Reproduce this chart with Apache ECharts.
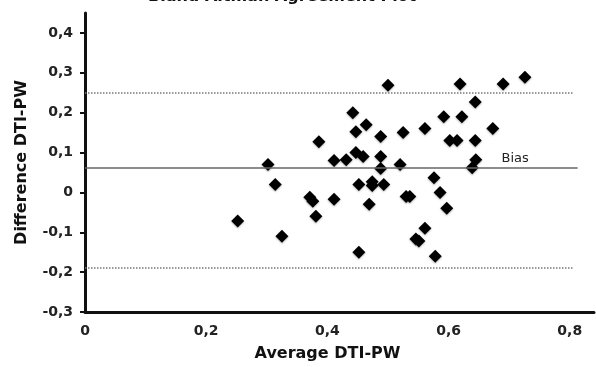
<!DOCTYPE html>
<html>
<head>
<meta charset="utf-8">
<script src="https://cdn.jsdelivr.net/npm/echarts@6/dist/echarts.min.js"></script>
<style>
  html, body { margin: 0; padding: 0; background: #fff; }
  #chart { width: 596px; height: 367px; }
</style>
</head>
<body>
<div id="chart"></div>
<script>
// averages (x) and differences (y)
const averages = [
  0.252, 0.302, 0.314, 0.325, 0.371, 0.376, 0.381, 0.386, 0.411, 0.411,
  0.431, 0.442, 0.447, 0.447, 0.459, 0.464, 0.452, 0.452, 0.469, 0.474,
  0.474, 0.488, 0.488, 0.488, 0.493, 0.500, 0.520, 0.525, 0.530, 0.536,
  0.546, 0.551, 0.561, 0.561, 0.576, 0.578, 0.586, 0.592, 0.597, 0.602,
  0.614, 0.619, 0.622, 0.639, 0.645, 0.644, 0.644, 0.673, 0.690, 0.726
]
const differences = [
  -0.072, 0.070, 0.020, -0.110, -0.012, -0.022, -0.060, 0.127, 0.080, -0.017,
  0.082, 0.200, 0.152, 0.100, 0.090, 0.170, 0.020, -0.150, -0.030, 0.027,
  0.017, 0.140, 0.090, 0.060, 0.020, 0.269, 0.070, 0.150, -0.010, -0.010,
  -0.117, -0.122, 0.160, -0.090, 0.037, -0.160, 0.000, 0.190, -0.040, 0.130,
  0.130, 0.272, 0.190, 0.062, 0.082, 0.227, 0.130, 0.160, 0.272, 0.289
]

const bias = 0.062
const upperLoA = 0.249
const lowerLoA = -0.189

const xTicks = [0, 0.2, 0.4, 0.6, 0.8]
const yTicks = [-0.3, -0.2, -0.1, 0, 0.1, 0.2, 0.3, 0.4]

const fmt = v => String(+(+v).toFixed(1)).replace('.', ',')
const font = 'DejaVu Sans'

const chart = echarts.init(document.getElementById('chart'))

chart.setOption({
  animation: false,
  title: {
    text: 'Bland Altman Agreement Plot',
    left: 143,
    top: -16,
    textStyle: { fontFamily: font, fontSize: 16, fontWeight: 'bold', color: '#111' }
  },
  grid: { left: 85, right: 2, top: 13, bottom: 53 },
  xAxis: {
    type: 'value',
    min: 0,
    max: 0.84,
    name: 'Average DTI-PW',
    nameLocation: 'middle',
    nameGap: 34,
    nameTextStyle: { fontFamily: font, fontSize: 16, fontWeight: 'bold', color: '#111', padding: [0, 24, 0, 0] },
    axisLine: { onZero: false, lineStyle: { color: '#111', width: 3 } },
    axisTick: { show: false },
    axisLabel: {
      customValues: xTicks,
      formatter: fmt,
      margin: 12,
      fontFamily: font, fontSize: 14, fontWeight: 'bold', color: '#222'
    },
    splitLine: { show: false }
  },
  yAxis: {
    type: 'value',
    min: -0.3,
    max: 0.45,
    name: 'Difference DTI-PW',
    nameLocation: 'middle',
    nameGap: 55,
    nameTextStyle: { fontFamily: font, fontSize: 16, fontWeight: 'bold', color: '#111' },
    axisLine: { show: true, lineStyle: { color: '#111', width: 3 } },
    axisTick: { show: true, customValues: yTicks, length: 5, lineStyle: { color: '#111', width: 2 } },
    axisLabel: {
      customValues: yTicks,
      formatter: fmt,
      margin: 12,
      fontFamily: font, fontSize: 14, fontWeight: 'bold', color: '#222'
    },
    splitLine: { show: false }
  },
  series: [
    {
      type: 'scatter',
      symbol: 'diamond',
      symbolSize: 13,
      data: averages.map((x, i) => [x, differences[i]]),
      itemStyle: {
        color: '#000',
        opacity: 1,
        shadowBlur: 2,
        shadowColor: 'rgba(0,0,0,0.3)',
        shadowOffsetY: 1
      },
      markLine: {
        silent: true,
        symbol: 'none',
        label: { show: false },
        data: [
          [
            { coord: [0, bias], lineStyle: { type: 'solid', color: '#666', width: 1.5 } },
            { coord: [0.813, bias] }
          ],
          [
            { coord: [0, upperLoA], lineStyle: { type: 'dotted', color: '#777', width: 1.5 } },
            { coord: [0.805, upperLoA] }
          ],
          [
            { coord: [0, lowerLoA], lineStyle: { type: 'dotted', color: '#777', width: 1.5 } },
            { coord: [0.805, lowerLoA] }
          ]
        ]
      },
      markPoint: {
        silent: true,
        symbol: 'circle',
        symbolSize: 0,
        label: {
          show: true,
          position: 'top',
          distance: 3,
          formatter: 'Bias',
          fontFamily: font, fontSize: 13, color: '#222'
        },
        data: [{ coord: [0.71, bias] }]
      }
    }
  ]
})
</script>
</body>
</html>
